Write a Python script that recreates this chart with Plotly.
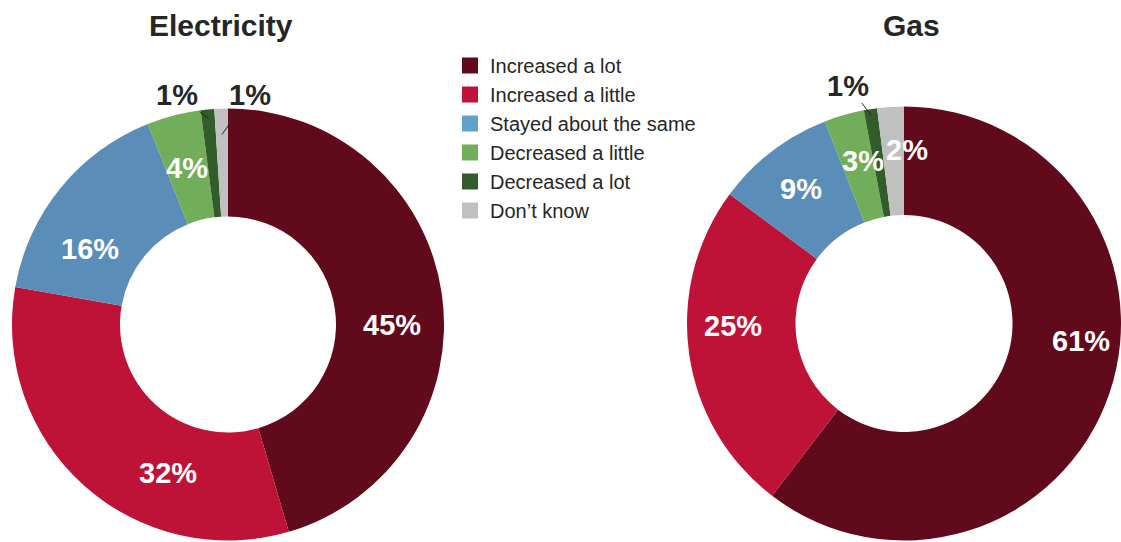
import plotly.graph_objects as go
import math

# Survey answers (percent of respondents)
categories = ["Increased a lot", "Increased a little", "Stayed about the same",
              "Decreased a little", "Decreased a lot", "Don\u2019t know"]
electricity = [45, 32, 16, 4, 1, 1]
gas = [61, 25, 9, 3, 1, 2]
colors = ["#600a1c", "#be1236", "#5a8db8", "#72ae5a", "#335c2b", "#c0c0c0"]
legend_colors = ["#600a1c", "#be1236", "#63a0cb", "#72ae5a", "#335c2b", "#c0c0c0"]

W, H = 1121, 542
DARK = "#262626"
FONT = "Liberation Sans, Arial, sans-serif"

elec_dom = dict(x=[12 / W, 444 / W], y=[1 - 540.5 / H, 1 - 108.5 / H])
gas_dom = dict(x=[687 / W, 1.0], y=[0.0, 1 - 105 / H])

# value labels over the ring:
# slice -> (position along the slice's arc 0..1, radius fraction, x shift px)
elec_inside = {0: (0.55, 0.76, 0), 1: (0.33, 0.74, 0), 2: (0.32, 0.73, 0),
               3: (0.5, 0.75, 0)}
gas_inside = {0: (0.44, 0.82, 0), 1: (0.58, 0.79, 0), 2: (0.5, 0.78, 0),
              3: (0.5, 0.78, 6), 5: (0.5, 0.80, 14)}
# tiny slices: value outside the ring with a leader line
# -> (slice, anchor radius fraction, label dx, label dy)
elec_callout = [(4, 0.96, -31, -23), (5, 0.88, 28, -40)]
gas_callout = [(4, 0.97, -23, -30)]


def ring_point(dom, values, idx, along, rfrac):
    """Paper coordinates of a point inside slice idx of a clockwise donut."""
    x0, x1 = dom["x"][0] * W, dom["x"][1] * W
    y0, y1 = dom["y"][0] * H, dom["y"][1] * H
    cx, cy = (x0 + x1) / 2, (y0 + y1) / 2
    r = min(x1 - x0, y1 - y0) / 2
    total = sum(values)
    ang = (sum(values[:idx]) + values[idx] * along) / total * 2 * math.pi
    px = cx + rfrac * r * math.sin(ang)
    py = cy + rfrac * r * math.cos(ang)
    return px / W, py / H


fig = go.Figure()
annotations = []

for vals, dom, inside, callout in [(electricity, elec_dom, elec_inside, elec_callout),
                                   (gas, gas_dom, gas_inside, gas_callout)]:
    fig.add_trace(go.Pie(
        labels=categories, values=vals, hole=0.5, sort=False,
        direction="clockwise", rotation=0, domain=dom,
        marker=dict(colors=colors, line=dict(width=0)),
        textinfo="none", showlegend=False, hoverinfo="label+percent",
    ))
    for idx, (along, rf, xs) in inside.items():
        x, y = ring_point(dom, vals, idx, along, rf)
        annotations.append(dict(
            text=f"<b>{vals[idx]}%</b>", x=x, y=y, xref="paper", yref="paper",
            xanchor="center", yanchor="middle", xshift=xs, showarrow=False,
            font=dict(size=29, color="white", family=FONT),
        ))
    for idx, rf, ax, ay in callout:
        x, y = ring_point(dom, vals, idx, 0.5, rf)
        annotations.append(dict(
            text=f"<b>{vals[idx]}%</b>", x=x, y=y, xref="paper", yref="paper",
            showarrow=True, arrowhead=0, arrowwidth=1, arrowcolor=DARK,
            ax=ax, ay=ay, font=dict(size=29, color=DARK, family=FONT),
        ))

# legend entries with larger square swatches
for name, c in zip(categories, legend_colors):
    fig.add_trace(go.Scatter(
        x=[None], y=[None], mode="markers", name=name,
        marker=dict(symbol="square", size=16, color=c),
    ))

for title, cx in [("Electricity", 221), ("Gas", 911.5)]:
    annotations.append(dict(
        text=f"<b>{title}</b>", x=cx / W, y=1 - 25 / H, xref="paper", yref="paper",
        xanchor="center", yanchor="middle", showarrow=False,
        font=dict(size=30, color=DARK, family=FONT),
    ))

fig.update_layout(
    width=W, height=H,
    margin=dict(l=0, r=0, t=0, b=0),
    paper_bgcolor="white", plot_bgcolor="white",
    font=dict(family=FONT, color=DARK),
    xaxis=dict(visible=False), yaxis=dict(visible=False),
    legend=dict(x=450 / W, y=1 - 46 / H, xanchor="left", yanchor="top",
                font=dict(size=20, color=DARK, family=FONT),
                bgcolor="rgba(0,0,0,0)", itemclick=False),
    annotations=annotations,
)

fig.write_html("out.html")
